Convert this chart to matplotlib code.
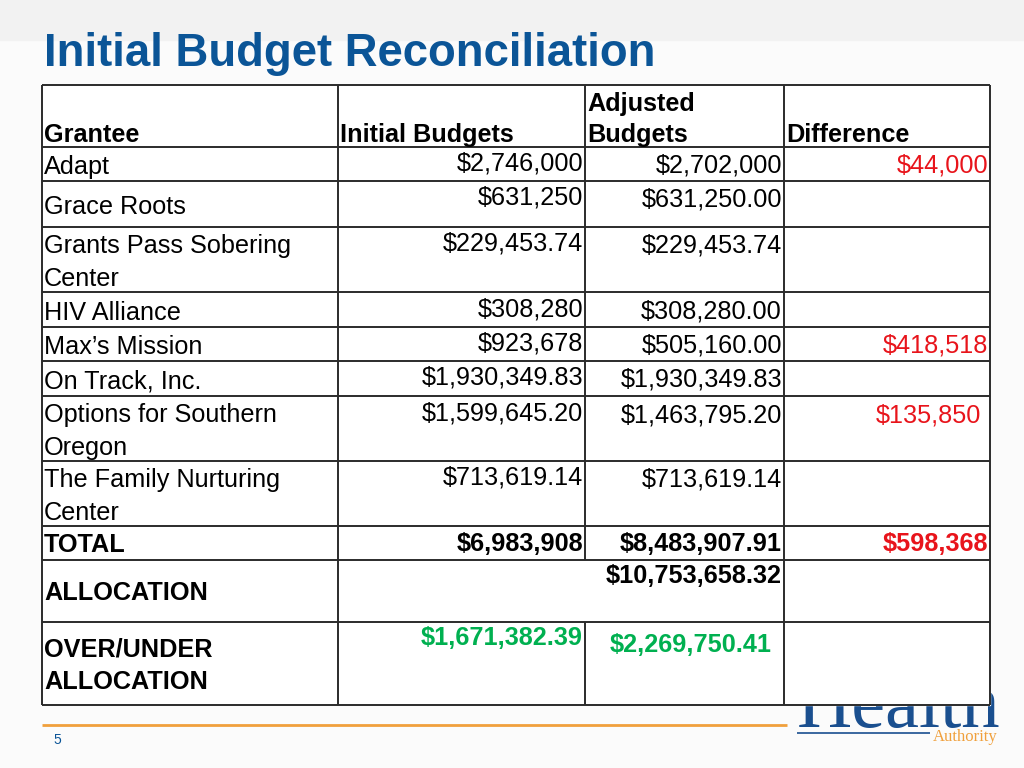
import matplotlib
matplotlib.use('Agg')
import matplotlib.pyplot as plt
from matplotlib.patches import Rectangle

plt.rcParams['font.family'] = ['Liberation Sans', 'DejaVu Sans']

# table content
headers = ['Grantee', 'Initial Budgets', 'Adjusted\nBudgets', 'Difference']
grantees = ['Adapt', 'Grace Roots', 'Grants Pass Sobering\nCenter', 'HIV Alliance',
            'Max\u2019s Mission', 'On Track, Inc.', 'Options for Southern\nOregon',
            'The Family Nurturing\nCenter']
initial = ['$2,746,000', '$631,250', '$229,453.74', '$308,280', '$923,678',
           '$1,930,349.83', '$1,599,645.20', '$713,619.14']
adjusted = ['$2,702,000', '$631,250.00', '$229,453.74', '$308,280.00', '$505,160.00',
            '$1,930,349.83', '$1,463,795.20', '$713,619.14']
difference = ['$44,000', '', '', '', '$418,518', '', '$135,850', '']
total_row = ['TOTAL', '$6,983,908', '$8,483,907.91', '$598,368']
allocation_row = ['ALLOCATION', '$10,753,658.32']
over_under_row = ['OVER/UNDER\nALLOCATION', '$1,671,382.39', '$2,269,750.41']

# layout (pixels)
col_x = [42, 338, 585, 784, 990]
row_y = [85, 147, 181, 227, 292, 327, 361, 396, 461, 526, 560, 622, 705]

BLUE = '#0b5597'
RED = '#e8141b'
GREEN = '#00b050'
ORANGE = '#f0a03c'
LINE = '#2b2b2b'
FS = 18.2
LS = 1.44

fig = plt.figure(figsize=(10.24, 7.68), dpi=100)
fig.patch.set_facecolor('#fbfbfb')
ax = fig.add_axes([0, 0, 1, 1])
ax.set_xlim(0, 1024)
ax.set_ylim(768, 0)
ax.axis('off')

# top band
ax.add_patch(Rectangle((0, 0), 1024, 40, color='#f2f2f2', zorder=0))

# title
ax.text(44, 54, 'Initial Budget Reconciliation', fontsize=32.8, fontweight='bold',
        color=BLUE, va='center', ha='left')

# footer: orange rule, page number, logo text (partly behind the table)
ax.hlines(725, 42, 787, color=ORANGE, lw=2, zorder=1)
ax.text(53, 740, '5', fontsize=10, color=BLUE, va='center', ha='left')
ax.text(797, 727, 'Health', fontsize=55, color='#1a4f8f', family='Liberation Serif',
        va='baseline', ha='left', zorder=1)
ax.hlines(733, 797, 930, color='#1a4f8f', lw=1.2, zorder=1)
ax.text(998, 729, 'Authority', fontsize=12, color=ORANGE, family='Liberation Serif',
        va='top', ha='right', zorder=1)

# table background
ax.add_patch(Rectangle((col_x[0], row_y[0]), col_x[-1] - col_x[0], row_y[-1] - row_y[0],
                       color='white', zorder=2))

# horizontal lines
for y in row_y:
    ax.hlines(y, col_x[0], col_x[-1], color=LINE, lw=1.4, zorder=3)
# vertical lines (no divider at col 2 inside the allocation row)
alloc_top, alloc_bot = row_y[10], row_y[11]
for i, x in enumerate(col_x):
    if i == 2:
        ax.vlines(x, row_y[0], alloc_top, color=LINE, lw=1.4, zorder=3)
        ax.vlines(x, alloc_bot, row_y[-1], color=LINE, lw=1.4, zorder=3)
    else:
        ax.vlines(x, row_y[0], row_y[-1], color=LINE, lw=1.4, zorder=3)

# header
for i, h in enumerate(headers):
    ax.text(col_x[i] + 2, row_y[1], h, fontsize=FS, fontweight='bold',
            va='bottom', ha='left', linespacing=LS - 0.08, zorder=4)


def right_text(col, y, s, color='black', weight='normal', pad=2):
    ax.text(col_x[col + 1] - pad, y, s, fontsize=FS, fontweight=weight, color=color,
            va='center', ha='right', zorder=4)


# grantee rows
for r in range(len(grantees)):
    top, bot = row_y[r + 1], row_y[r + 2]
    ax.text(col_x[0] + 2, (top + bot) / 2 + 3, grantees[r], fontsize=FS, va='center',
            ha='left', linespacing=LS, zorder=4)
    right_text(1, top + 17, initial[r])
    right_text(2, top + 19, adjusted[r])
    if difference[r]:
        pad = 9 if r == 6 else 2
        right_text(3, top + 19, difference[r], color=RED, pad=pad)

# total row
top, bot = row_y[9], row_y[10]
ax.text(col_x[0] + 2, (top + bot) / 2 + 2, total_row[0], fontsize=FS, fontweight='bold',
        va='center', ha='left', zorder=4)
right_text(1, top + 18, total_row[1], weight='bold')
right_text(2, top + 18, total_row[2], weight='bold')
right_text(3, top + 18, total_row[3], color=RED, weight='bold')

# allocation row
top, bot = row_y[10], row_y[11]
ax.text(col_x[0] + 2, (top + bot) / 2 + 2, allocation_row[0], fontsize=FS,
        fontweight='bold', va='center', ha='left', zorder=4)
right_text(2, top + 16, allocation_row[1], weight='bold')

# over/under row
top, bot = row_y[11], row_y[12]
ax.text(col_x[0] + 2, (top + bot) / 2 + 2, over_under_row[0], fontsize=FS,
        fontweight='bold', va='center', ha='left', linespacing=LS, zorder=4)
right_text(1, top + 16, over_under_row[1], color=GREEN, weight='bold')
right_text(2, top + 23, over_under_row[2], color=GREEN, weight='bold', pad=12)

fig.savefig('out.png', dpi=100, facecolor=fig.get_facecolor())
